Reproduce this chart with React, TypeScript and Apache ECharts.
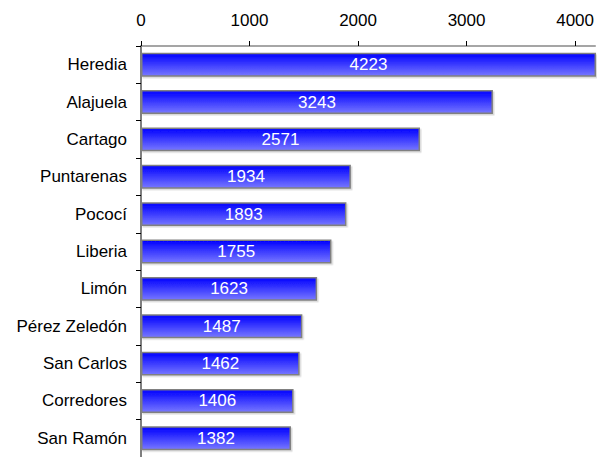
import React, { useEffect, useRef } from "react";
import * as echarts from "echarts";

const categories = ["Heredia", "Alajuela", "Cartago", "Puntarenas", "Pococí", "Liberia", "Limón", "Pérez Zeledón", "San Carlos", "Corredores", "San Ramón"];
const values = [4223, 3243, 2571, 1934, 1893, 1755, 1623, 1487, 1462, 1406, 1382];

export default function App() {
  const ref = useRef<HTMLDivElement>(null);
  useEffect(() => {
    const chart = echarts.init(ref.current!, null, { renderer: "svg" });
    chart.setOption({
      animation: false,
      grid: { left: 141, right: 0, top: 46, bottom: -2, containLabel: false },
      xAxis: {
        type: "value",
        position: "top",
        min: 0,
        max: 4186,
        interval: 1000,
        splitLine: { show: false },
        axisLine: { show: true, lineStyle: { color: "#888", width: 1.5 } },
        axisTick: { show: true, length: 5, lineStyle: { color: "#000" } },
        axisLabel: {
          color: "#000",
          fontSize: 17,
          fontFamily: "Liberation Sans",
          margin: 17,
          showMaxLabel: false,
          formatter: (v: number) => String(v),
        },
      },
      yAxis: {
        type: "category",
        data: categories,
        inverse: true,
        axisLine: { show: true, lineStyle: { color: "#555", width: 1.5 } },
        axisTick: { show: true, length: 5, lineStyle: { color: "#000" } },
        axisLabel: { color: "#000", fontSize: 17, fontFamily: "Liberation Sans", margin: 14 },
      },
      series: [
        {
          type: "bar",
          data: values,
          barCategoryGap: "36%",
          itemStyle: {
            color: new echarts.graphic.LinearGradient(0, 0, 0, 1, [
              { offset: 0, color: "#0000ff" },
              { offset: 1, color: "#7878ff" },
            ]),
            borderColor: "#808080",
            borderWidth: 1.5,
            shadowColor: "rgba(0,0,0,0.15)",
            shadowOffsetX: 1.5,
            shadowOffsetY: 1.5,
            shadowBlur: 0,
          },
          label: {
            show: true,
            position: "inside",
            color: "#fff",
            fontSize: 17,
            fontFamily: "Liberation Sans",
          },
        },
      ],
    });
    return () => chart.dispose();
  }, []);
  return <div ref={ref} style={{ width: 597, height: 457, position: "absolute", left: 0, top: 0 }} />;
}
